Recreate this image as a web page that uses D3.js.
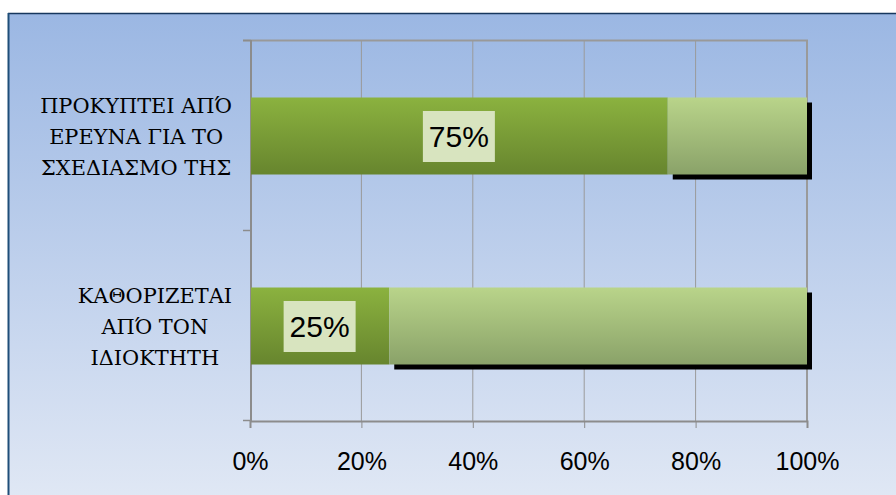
<!DOCTYPE html>
<html><head><meta charset="utf-8">
<script src="https://cdn.jsdelivr.net/npm/d3@7"></script>
<style>html,body{margin:0;padding:0;background:#fff;}svg{display:block;}
.cat{font-family:"DejaVu Serif","Liberation Serif",serif;}
</style>
</head><body>
<svg id="c" width="896" height="495"></svg>
<script>
const categories = [
  ["ΠΡΟΚΥΠΤΕΙ ΑΠΌ", "ΕΡΕΥΝΑ ΓΙΑ ΤΟ", "ΣΧΕΔΙΑΣΜΟ ΤΗΣ"],
  ["ΚΑΘΟΡΙΖΕΤΑΙ", "ΑΠΌ ΤΟΝ", "ΙΔΙΟΚΤΗΤΗ"]
];
const seriesMain = [0.75, 0.25];
const seriesRest = [0.25, 0.75];
const dataLabels = ["75%", "25%"];
const tickValues = [0, 0.2, 0.4, 0.6, 0.8, 1.0];

const svg = d3.select("#c");
const defs = svg.append("defs");
const bg = defs.append("linearGradient").attr("id","bg").attr("x1",0).attr("y1",0).attr("x2",0).attr("y2",1);
bg.append("stop").attr("offset","0%").attr("stop-color","#9bb7e3");
bg.append("stop").attr("offset","100%").attr("stop-color","#e2e9f5");
const g1 = defs.append("linearGradient").attr("id","dark").attr("x1",0).attr("y1",0).attr("x2",0).attr("y2",1);
g1.append("stop").attr("offset","0%").attr("stop-color","#8bb23f");
g1.append("stop").attr("offset","100%").attr("stop-color","#67852e");
const g2 = defs.append("linearGradient").attr("id","light").attr("x1",0).attr("y1",0).attr("x2",0).attr("y2",1);
g2.append("stop").attr("offset","0%").attr("stop-color","#b9d48a");
g2.append("stop").attr("offset","100%").attr("stop-color","#8aa269");

svg.append("rect").attr("x",8).attr("y",13).attr("width",900).attr("height",500).attr("fill","url(#bg)");
svg.append("line").attr("x1",8).attr("x2",896).attr("y1",13.5).attr("y2",13.5).attr("stroke","#17375e").attr("stroke-width",1.5);
svg.append("line").attr("x1",8.5).attr("x2",8.5).attr("y1",13).attr("y2",495).attr("stroke","#1f4e79").attr("stroke-width",2);

const x = d3.scaleLinear().domain([0,1]).range([250,807]);
const y = d3.scaleBand().domain(d3.range(categories.length)).range([40,420]).padding(0);
const barOff = 57.5, barH = 77;

svg.append("g").selectAll("line").data(tickValues.slice(1)).join("line")
  .attr("x1",d=>x(d)).attr("x2",d=>x(d)).attr("y1",40).attr("y2",421)
  .attr("stroke","#9a9a9a").attr("stroke-width",d=>d===1?2:1);
svg.append("line").attr("x1",243).attr("x2",808).attr("y1",40.5).attr("y2",40.5).attr("stroke","#999").attr("stroke-width",2);

const xAxis = d3.axisBottom(x).tickValues(tickValues).tickFormat(d3.format(".0%")).tickSize(7).tickPadding(22);
const gx = svg.append("g").attr("transform","translate(0,421)").call(xAxis);
gx.select(".domain").attr("stroke","#8c8c8c").attr("stroke-width",2);
gx.selectAll(".tick line").attr("stroke","#8c8c8c");
gx.selectAll(".tick text").attr("font-family","'Liberation Sans', Arial, sans-serif").attr("font-size",25).attr("fill","#000").attr("dy","0.8em");

svg.append("line").attr("x1",251).attr("x2",251).attr("y1",40).attr("y2",422).attr("stroke","#8c8c8c").attr("stroke-width",2);
svg.append("g").selectAll("line").data([40,230,420]).join("line")
  .attr("x1",243).attr("x2",251).attr("y1",d=>d+0.5).attr("y2",d=>d+0.5).attr("stroke","#8c8c8c").attr("stroke-width",1.5);

svg.append("g").selectAll("rect").data(seriesRest).join("rect")
  .attr("x",(d,i)=>x(seriesMain[i])+5).attr("y",(d,i)=>y(i)+barOff+5)
  .attr("width",(d,i)=>x(seriesMain[i]+d)-x(seriesMain[i])).attr("height",barH).attr("fill","#000");
svg.append("g").selectAll("rect").data(seriesMain).join("rect")
  .attr("x",x(0)+1).attr("y",(d,i)=>y(i)+barOff).attr("width",d=>x(d)-x(0)-1).attr("height",barH).attr("fill","url(#dark)");
svg.append("g").selectAll("rect").data(seriesRest).join("rect")
  .attr("x",(d,i)=>x(seriesMain[i])).attr("y",(d,i)=>y(i)+barOff)
  .attr("width",(d,i)=>x(seriesMain[i]+d)-x(seriesMain[i])).attr("height",barH).attr("fill","url(#light)");

const lbl = svg.append("g").selectAll("g").data(seriesMain).join("g")
  .attr("transform",(d,i)=>`translate(${(x(0)+x(d))/2},${y(i)+barOff+barH/2})`);
lbl.append("rect").attr("x",-36).attr("y",-25).attr("width",72).attr("height",51).attr("fill","#d8e4bf");
lbl.append("text").text((d,i)=>dataLabels[i]).attr("text-anchor","middle").attr("y",11)
  .attr("font-family","'Liberation Sans', Arial, sans-serif").attr("font-size",30).attr("fill","#000");

// category labels: scale font so the widest top label spans ~192px
const catGroups = categories.map((lines,i)=>{
  const g = svg.append("g");
  const t = g.selectAll("text").data(lines).join("text").text(d=>d)
    .attr("class","cat").attr("font-size",23).attr("fill","#000").attr("text-anchor","middle");
  return t;
});
let w0 = 0; catGroups[0].each(function(){w0=Math.max(w0,this.getComputedTextLength());});
const fs = Math.min(23, 23*192/w0);
catGroups.forEach((t,i)=>{
  const cy = y(i)+barOff+barH/2;
  const n = t.size();
  t.attr("font-size",fs).attr("y",(d,j)=>cy + (j-(n-1)/2)*31 + 8);
  let maxW = 0; t.each(function(){maxW=Math.max(maxW,this.getComputedTextLength());});
  t.attr("x",232-maxW/2);
});
</script>
</body></html>
